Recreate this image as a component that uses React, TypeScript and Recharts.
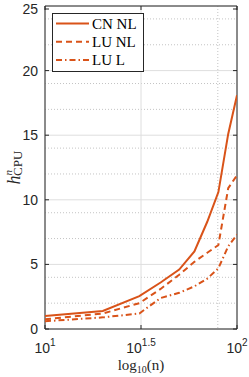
import { LineChart, Line, XAxis, YAxis, CartesianGrid, ReferenceArea, Legend } from "recharts";

// problem size n and the CPU time ratio for each solver
const N = [10, 20, 31, 40, 50, 60, 70, 80, 90, 100];
const CN_NL = [1.0, 1.4, 2.55, 3.6, 4.6, 6.0, 8.3, 10.6, 15.1, 18.1];
const LU_NL = [0.75, 1.2, 2.0, 3.1, 4.2, 5.2, 5.9, 6.5, 10.9, 11.9];
const LU_L = [0.6, 0.9, 1.2, 2.4, 2.8, 3.3, 3.9, 4.7, 6.4, 7.3];

const X_TICK_EXP = [1, 1.5, 2];
const X_MINOR_EXP = [1.1, 1.2, 1.3, 1.4, 1.6, 1.7, 1.8, 1.9];
const Y_TICKS = [0, 5, 10, 15, 20, 25];
const Y_MINOR = [1, 2, 3, 4, 6, 7, 8, 9, 11, 12, 13, 14, 16, 17, 18, 19, 21, 22, 23, 24];

const SERIES = [
  { key: "cnNl", name: "CN NL", dash: undefined as string | undefined },
  { key: "luNl", name: "LU NL", dash: "6 4" },
  { key: "luL", name: "LU L", dash: "6 3 1.5 3" },
];

const data = N.map((n, i) => ({ n, cnNl: CN_NL[i], luNl: LU_NL[i], luL: LU_L[i] }));

const W = 249;
const H = 377;
const MARGIN = { top: 6, right: 12, left: 0, bottom: 0 };
const Y_AXIS_W = 45;
const X_AXIS_H = 48;
const PLOT_LEFT = MARGIN.left + Y_AXIS_W;
const PLOT_RIGHT = W - MARGIN.right;
const PLOT_TOP = MARGIN.top;
const PLOT_BOTTOM = H - X_AXIS_H;

const ORANGE = "#D95319";
const AXIS = "#262626";
const SANS = "'Liberation Sans', Arial, sans-serif";
const SERIF = "'Liberation Serif', 'DejaVu Serif', serif";

function YTick(props: any) {
  const { y, payload } = props;
  return (
    <g>
      <line x1={PLOT_LEFT} x2={PLOT_LEFT + 4} y1={y} y2={y} stroke={AXIS} />
      <line x1={PLOT_RIGHT - 4} x2={PLOT_RIGHT} y1={y} y2={y} stroke={AXIS} />
      <text x={PLOT_LEFT - 7} y={y + 5} textAnchor="end" fontFamily={SANS} fontSize={14} fill={AXIS}>
        {payload.value}
      </text>
    </g>
  );
}

function XTick(props: any) {
  const { x, payload } = props;
  const exp = Math.round(Math.log10(payload.value) * 10) / 10;
  return (
    <g>
      <line x1={x} x2={x} y1={PLOT_BOTTOM} y2={PLOT_BOTTOM - 4} stroke={AXIS} />
      <line x1={x} x2={x} y1={PLOT_TOP} y2={PLOT_TOP + 4} stroke={AXIS} />
      <text x={x} y={PLOT_BOTTOM + 24} textAnchor="middle" fontFamily={SANS} fontSize={14} fill={AXIS}>
        <tspan>10</tspan>
        <tspan fontSize={10} dy={-7}>{exp}</tspan>
      </text>
    </g>
  );
}

function YLabel(props: any) {
  const vb = props.viewBox || {};
  const cx = 20;
  const cy = vb.y + vb.height / 2;
  return (
    <text x={cx} y={cy} transform={`rotate(-90, ${cx}, ${cy})`} textAnchor="middle" fontFamily={SERIF} fontSize={18} fill={AXIS}>
      <tspan fontStyle="italic">h</tspan>
      <tspan fontStyle="italic" fontSize={11} dy={-8}>n</tspan>
      <tspan fontSize={13} dx={-6} dy={10}>CPU</tspan>
    </text>
  );
}

function XLabel(props: any) {
  const vb = props.viewBox || {};
  const cx = vb.x + vb.width / 2;
  return (
    <text x={cx} y={vb.y + 41} textAnchor="middle" fontFamily={SERIF} fontSize={15} fill={AXIS}>
      <tspan>log</tspan>
      <tspan fontSize={10} dy={3}>10</tspan>
      <tspan dy={-3}>(n)</tspan>
    </text>
  );
}

function LegendBox() {
  return (
    <svg width={92} height={59}>
      <rect x={0.5} y={0.5} width={91} height={58} fill="#fff" stroke={AXIS} />
      {SERIES.map((s, i) => {
        const y = 10.5 + i * 18.3;
        return (
          <g key={s.key}>
            <line x1={4} x2={37} y1={y} y2={y} stroke={ORANGE} strokeWidth={2} strokeDasharray={s.dash} />
            <text x={40} y={y + 5} fontFamily={SERIF} fontSize={15} fill="#000">
              {s.name}
            </text>
          </g>
        );
      })}
    </svg>
  );
}

export default function App() {
  return (
    <div style={{ position: "absolute", left: 0, top: 0, width: W, height: H, background: "#fff" }}>
      <LineChart width={W} height={H} data={data} margin={MARGIN}>
        <CartesianGrid stroke="#c4c4c4" strokeDasharray="1 2" horizontalValues={Y_MINOR} verticalValues={X_MINOR_EXP.map((e) => 10 ** e)} />
        <CartesianGrid stroke="#dedede" />
        <XAxis
          dataKey="n"
          type="number"
          scale="log"
          domain={[10, 100]}
          ticks={X_TICK_EXP.map((e) => 10 ** e)}
          allowDataOverflow
          height={X_AXIS_H}
          axisLine={false}
          tickLine={false}
          tickSize={0}
          tick={<XTick />}
          label={<XLabel />}
        />
        <YAxis
          type="number"
          domain={[0, 25]}
          ticks={Y_TICKS}
          width={Y_AXIS_W}
          axisLine={false}
          tickLine={false}
          tickSize={0}
          tick={<YTick />}
          label={<YLabel />}
        />
        <ReferenceArea x1={10} x2={100} y1={0} y2={25} fill="none" stroke={AXIS} strokeWidth={1} ifOverflow="extendDomain" />
        {SERIES.map((s) => (
          <Line
            key={s.key}
            type="linear"
            dataKey={s.key}
            name={s.name}
            stroke={ORANGE}
            strokeWidth={2}
            strokeDasharray={s.dash}
            dot={false}
            isAnimationActive={false}
          />
        ))}
        <Legend
          layout="horizontal"
          verticalAlign="middle"
          align="center"
          content={<LegendBox />}
          wrapperStyle={{ position: "absolute", left: 52, top: 13, width: 92, height: 59 }}
        />
      </LineChart>
    </div>
  );
}
